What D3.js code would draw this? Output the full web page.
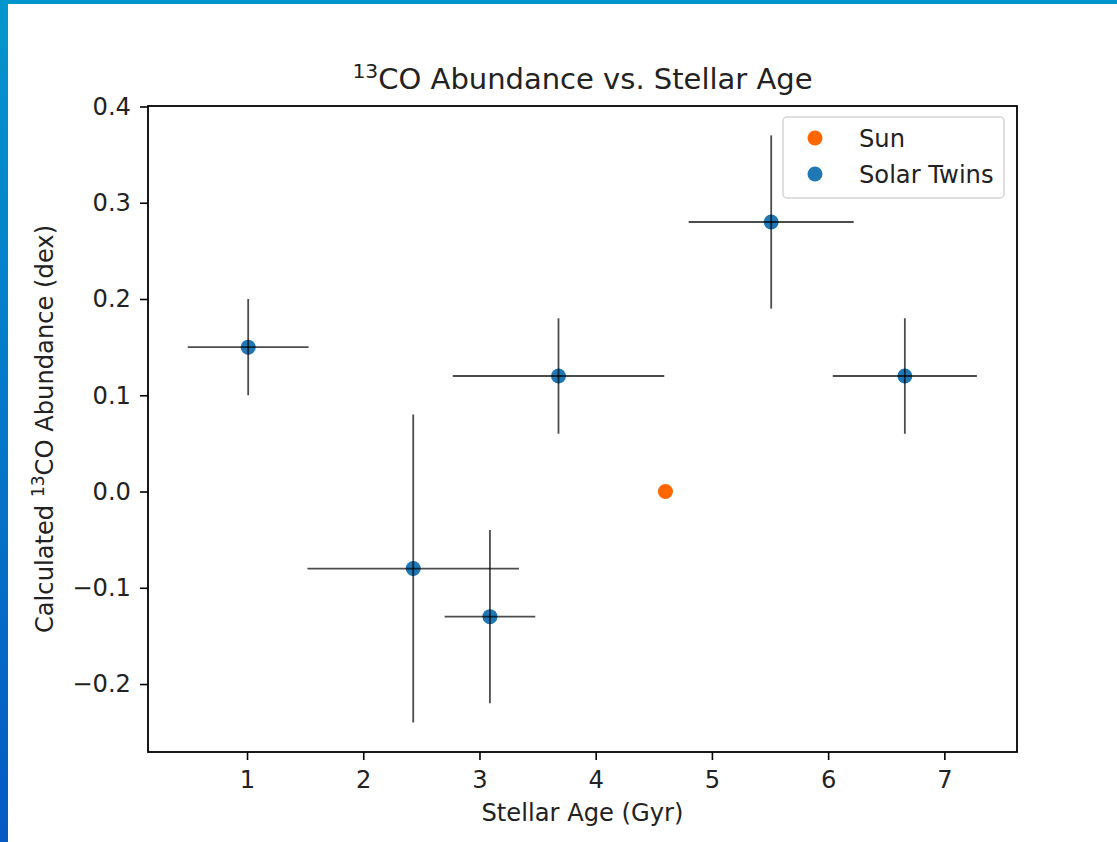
<!DOCTYPE html>
<html>
<head>
<meta charset="utf-8">
<script src="https://cdn.jsdelivr.net/npm/d3@7"></script>
<style>
  html, body { margin: 0; padding: 0; background: #fff; }
  svg { display: block; }
  text { font-family: "DejaVu Sans", sans-serif; fill: #222; }
</style>
</head>
<body>
<svg id="chart" width="1117" height="842"></svg>
<script>
// Solar twins: stellar age (Gyr) with age uncertainty, 13CO abundance (dex) with uncertainty
const twinAge    = [1.01, 2.43, 3.09, 3.68, 5.51, 6.66];
const twinAgeErr = [0.52, 0.91, 0.39, 0.91, 0.71, 0.62];
const twinCO     = [0.15, -0.08, -0.13, 0.12, 0.28, 0.12];
const twinCOErr  = [0.05, 0.16, 0.09, 0.06, 0.09, 0.06];

// The Sun as reference point
const sunAge = [4.6];
const sunCO  = [0.0];

const xTicks = [1, 2, 3, 4, 5, 6, 7];
const yTicks = [-0.2, -0.1, 0.0, 0.1, 0.2, 0.3, 0.4];

const legendLabels = ["Sun", "Solar Twins"];
const colSun = "#ff6600";
const colTwin = "#1f77b4";

const svg = d3.select("#chart");
const W = 1117, H = 842;

// window frame accents
const defs = svg.append("defs");
const grad = defs.append("linearGradient").attr("id", "sideGrad")
  .attr("x1", 0).attr("y1", 0).attr("x2", 0).attr("y2", 1);
grad.append("stop").attr("offset", "0%").attr("stop-color", "#0396cd");
grad.append("stop").attr("offset", "100%").attr("stop-color", "#055ac3");
svg.append("rect").attr("x", 0).attr("y", 0).attr("width", W).attr("height", 4).attr("fill", "#0396cd");
svg.append("rect").attr("x", 0).attr("y", 0).attr("width", 8).attr("height", H).attr("fill", "url(#sideGrad)");

const plot = { left: 148, right: 1017, top: 106, bottom: 752 };

const x = d3.scaleLinear().domain([0.148, 7.625]).range([plot.left, plot.right]);
const y = d3.scaleLinear().domain([-0.2706, 0.4005]).range([plot.bottom, plot.top]);

const fs = 24.2;

// axes
const xAxis = d3.axisBottom(x).tickValues(xTicks).tickFormat(d3.format("d")).tickSize(8).tickPadding(11);
const yAxis = d3.axisLeft(y).tickValues(yTicks)
  .tickFormat(d => (d < 0 ? "\u2212" : "") + Math.abs(d).toFixed(1)).tickSize(8).tickPadding(9);

const gx = svg.append("g").attr("transform", `translate(0,${plot.bottom})`).call(xAxis);
const gy = svg.append("g").attr("transform", `translate(${plot.left},0)`).call(yAxis);
[gx, gy].forEach(g => {
  g.select(".domain").remove();
  g.selectAll(".tick line").attr("stroke", "#000").attr("stroke-width", 1.6);
  g.selectAll(".tick text").attr("font-size", fs).attr("fill", "#222")
    .attr("font-family", "DejaVu Sans, sans-serif");
});

// markers
svg.append("g").selectAll("circle.twin").data(twinAge).join("circle")
  .attr("class", "twin")
  .attr("cx", d => x(d)).attr("cy", (d, i) => y(twinCO[i])).attr("r", 7.5)
  .attr("fill", colTwin);
svg.append("g").selectAll("circle.sun").data(sunAge).join("circle")
  .attr("class", "sun")
  .attr("cx", d => x(d)).attr("cy", (d, i) => y(sunCO[i])).attr("r", 7.5)
  .attr("fill", colSun);

// error bars
const eb = svg.append("g").attr("stroke", "#000").attr("stroke-opacity", 0.7).attr("stroke-width", 1.8);
twinAge.forEach((a, i) => {
  eb.append("line")
    .attr("x1", x(a - twinAgeErr[i])).attr("x2", x(a + twinAgeErr[i]))
    .attr("y1", y(twinCO[i])).attr("y2", y(twinCO[i]));
  eb.append("line")
    .attr("x1", x(a)).attr("x2", x(a))
    .attr("y1", y(twinCO[i] - twinCOErr[i])).attr("y2", y(twinCO[i] + twinCOErr[i]));
});

// plot frame
svg.append("rect")
  .attr("x", plot.left).attr("y", plot.top)
  .attr("width", plot.right - plot.left).attr("height", plot.bottom - plot.top)
  .attr("fill", "none").attr("stroke", "#000").attr("stroke-width", 1.8);

// title
const title = svg.append("text")
  .attr("x", (plot.left + plot.right) / 2).attr("y", 89)
  .attr("text-anchor", "middle").attr("font-size", 29);
title.append("tspan").attr("font-size", 20.3).attr("dy", -11).text("13");
title.append("tspan").attr("dy", 11).text("CO Abundance vs. Stellar Age");

// x label
svg.append("text")
  .attr("x", (plot.left + plot.right) / 2).attr("y", 821)
  .attr("text-anchor", "middle").attr("font-size", fs).text("Stellar Age (Gyr)");

// y label
const yl = svg.append("text")
  .attr("transform", `translate(53,${(plot.top + plot.bottom) / 2}) rotate(-90)`)
  .attr("text-anchor", "middle").attr("font-size", fs);
yl.append("tspan").text("Calculated ");
yl.append("tspan").attr("font-size", 17).attr("dy", -9).text("13");
yl.append("tspan").attr("dy", 9).text("CO Abundance (dex)");

// legend
const lg = svg.append("g");
lg.append("rect").attr("x", 783).attr("y", 117).attr("width", 221).attr("height", 81)
  .attr("rx", 4).attr("fill", "#fff").attr("fill-opacity", 0.8)
  .attr("stroke", "#d5d5d5").attr("stroke-width", 1.5);
const legendCols = [colSun, colTwin];
legendLabels.forEach((lab, i) => {
  const yy = 138 + i * 36;
  lg.append("circle").attr("cx", 815).attr("cy", yy).attr("r", 7.5).attr("fill", legendCols[i]);
  lg.append("text").attr("x", 859).attr("y", yy + 9).attr("font-size", fs).text(lab);
});
</script>
</body>
</html>
